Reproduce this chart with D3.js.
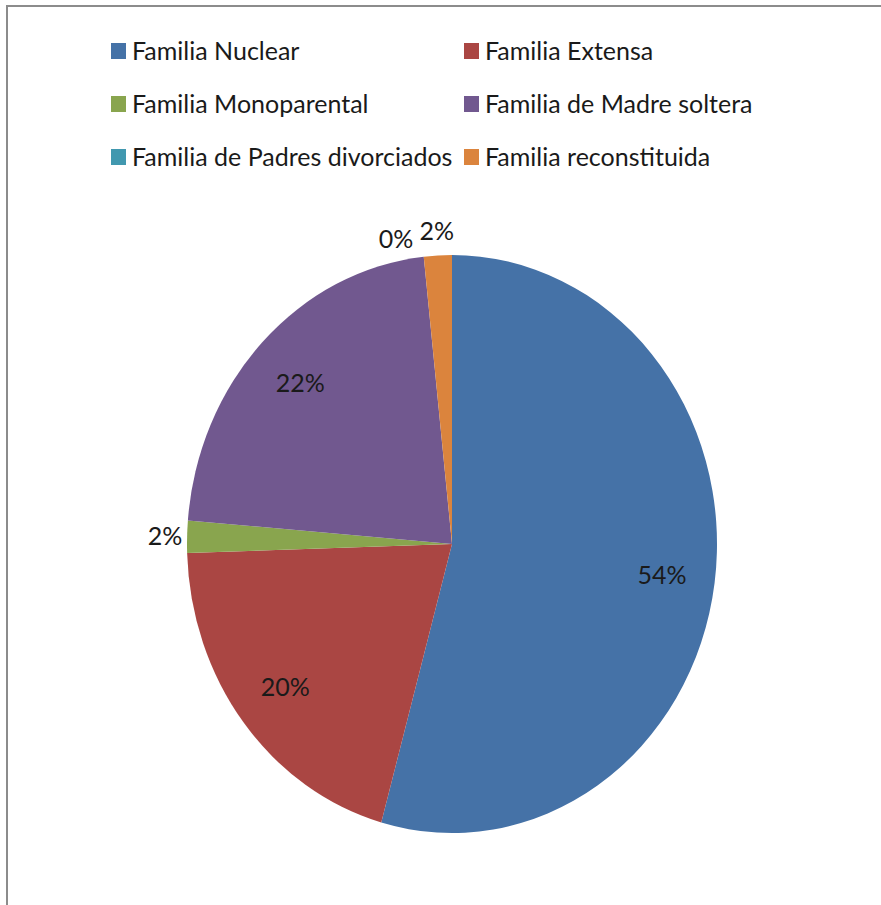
<!DOCTYPE html>
<html>
<head>
<meta charset="utf-8">
<script src="https://cdn.jsdelivr.net/npm/d3@7"></script>
<style>
  body { margin: 0; background: #fff; }
  text { font-family: Lato, "Open Sans", sans-serif; fill: #1a1a1a; }
</style>
</head>
<body>
<svg id="chart" width="881" height="905"></svg>
<script>
// data (percent of families)
const categories = ['Familia Nuclear', 'Familia Extensa', 'Familia Monoparental',
                    'Familia de Madre soltera', 'Familia de Padres divorciados', 'Familia reconstituida'];
const values = [54.3, 20.2, 1.8, 22.0, 0, 1.7];
const colors = ['#4572A7', '#AA4643', '#89A54E', '#71588F', '#4198AF', '#DB843D'];

const svg = d3.select('#chart');
const width = 881, height = 905;

// frame (top and left edge only are visible in the picture)
svg.append('line').attr('x1', 6).attr('y1', 6).attr('x2', width).attr('y2', 6)
   .attr('stroke', '#8c8c8c').attr('stroke-width', 2);
svg.append('line').attr('x1', 7).attr('y1', 5).attr('x2', 7).attr('y2', height)
   .attr('stroke', '#8c8c8c').attr('stroke-width', 2);

/* legend, two columns */
const legend = svg.append('g').attr('transform', 'translate(111, 43)');
const item = legend.selectAll('g')
  .data(categories)
  .enter()
  .append('g')
    .attr('transform', (d, i) => `translate(${(i % 2) * 353}, ${Math.floor(i / 2) * 53})`);

item.append('rect')
    .attr('width', 15).attr('height', 16)
    .attr('fill', (d, i) => colors[i]);

item.append('text')
    .attr('x', 21).attr('y', 8)
    .attr('dy', '0.36em')
    .style('font-size', '25px')
    .text(d => d);

/* pie, drawn as circle then squeezed horizontally like the picture */
const cx = 452, cy = 544;
const ry = 289, rx = 265;
const k = rx / ry;

const pie = d3.pie().sort(null).value(d => d);
const arcs = pie(values);
const arc = d3.arc().innerRadius(0).outerRadius(ry);

const g = svg.append('g').attr('transform', `translate(${cx}, ${cy}) scale(${k}, 1)`);
g.selectAll('path')
  .data(arcs)
  .enter()
  .append('path')
    .attr('d', arc)
    .attr('fill', (d, i) => colors[i]);

const total = d3.sum(values);
const fmt = d3.format('.0%');

// labels: big slices inside, small ones outside
const inner = d3.arc().innerRadius(ry * 0.8).outerRadius(ry * 0.8);
const outer = d3.arc().innerRadius(ry + 24).outerRadius(ry + 24);

const labels = svg.append('g').attr('transform', `translate(${cx}, ${cy})`);
let prevLeft = null;
arcs.slice().reverse().forEach(d => {
  const small = d.value / total < 0.05;
  const [x, y] = (small ? outer : inner).centroid(d);
  const t = labels.append('text')
      .attr('x', x * k)
      .attr('y', y)
      .attr('dy', '0.36em')
      .attr('text-anchor', 'middle')
      .style('font-size', '25px')
      .text(fmt(d.value / total));
  // push overlapping outside labels to the left
  if (small) {
    const b = t.node().getBBox();
    if (prevLeft !== null && b.x + b.width > prevLeft - 4 && Math.abs(y) > ry * 0.8) {
      t.attr('x', prevLeft - 6 - b.width / 2).attr('y', y + 6);
    }
    prevLeft = t.node().getBBox().x;
  }
});
</script>
</body>
</html>
